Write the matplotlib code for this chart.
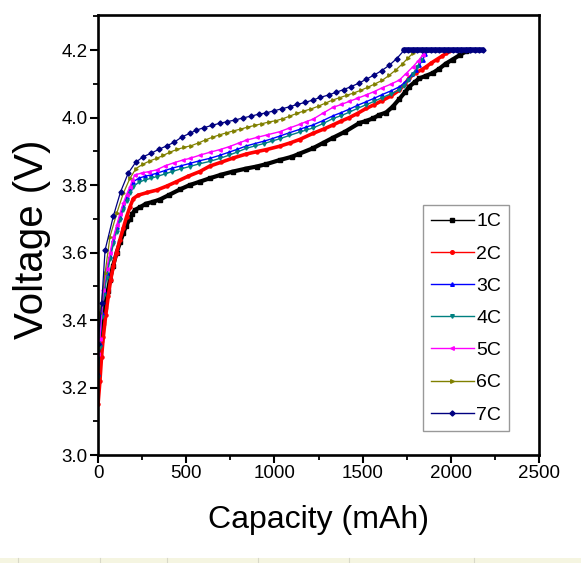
import matplotlib
matplotlib.use("Agg")
import matplotlib.pyplot as plt
from matplotlib.patches import Rectangle
from matplotlib.lines import Line2D
from matplotlib.ticker import MultipleLocator

# ---------------- data ----------------
labels = ["1C", "2C", "3C", "4C", "5C", "6C", "7C"]

cap1 = [0, 10, 19, 30, 40, 55, 68, 85, 106, 125, 143, 160, 181, 195, 209, 240, 273, 310, 350, 400,
        464, 520, 577, 633, 700, 765, 841, 900, 954, 1029, 1100, 1142, 1218, 1280, 1331, 1400, 1482,
        1520, 1560, 1595, 1633, 1670, 1708, 1740, 1765, 1795, 1821, 1860, 1897, 1935, 1972, 2010,
        2050, 2085, 2105]
v1 = [3.22, 3.29, 3.34, 3.39, 3.44, 3.485, 3.52, 3.56, 3.60, 3.63, 3.657, 3.68, 3.70, 3.715, 3.726,
      3.735, 3.745, 3.75, 3.757, 3.77, 3.787, 3.80, 3.81, 3.82, 3.831, 3.84, 3.849, 3.855, 3.862,
      3.874, 3.884, 3.893, 3.909, 3.926, 3.94, 3.958, 3.984, 3.99, 3.998, 4.008, 4.015, 4.032, 4.055,
      4.075, 4.092, 4.105, 4.116, 4.124, 4.132, 4.145, 4.16, 4.172, 4.185, 4.196, 4.2]

cap2 = [0, 11, 20, 30, 44, 58, 72, 87, 105, 124, 143, 162, 181, 200, 228, 280, 332, 390, 445, 510,
        577, 633, 700, 765, 841, 900, 954, 1029, 1090, 1143, 1218, 1280, 1331, 1380, 1425, 1470, 1520,
        1565, 1610, 1660, 1708, 1740, 1765, 1800, 1835, 1859, 1890, 1920, 1950, 1972, 1990, 2005]
v2 = [3.15, 3.22, 3.29, 3.35, 3.415, 3.47, 3.52, 3.56, 3.60, 3.637, 3.672, 3.706, 3.735, 3.76, 3.77,
      3.778, 3.785, 3.797, 3.81, 3.826, 3.84, 3.856, 3.868, 3.88, 3.892, 3.899, 3.905, 3.915, 3.925,
      3.935, 3.953, 3.966, 3.978, 3.99, 4.0, 4.012, 4.027, 4.038, 4.05, 4.064, 4.081, 4.1, 4.118,
      4.132, 4.142, 4.15, 4.162, 4.172, 4.182, 4.19, 4.196, 4.2]

cap3 = [0, 10, 21, 35, 49, 68, 87, 105, 124, 143, 162, 181, 200, 230, 265, 300, 332, 380, 420, 470,
        520, 575, 633, 690, 740, 790, 841, 890, 940, 985, 1029, 1085, 1143, 1180, 1218, 1275, 1331,
        1380, 1425, 1470, 1520, 1565, 1610, 1660, 1708, 1735, 1760, 1780, 1802, 1820, 1840, 1855, 1865]
v3 = [3.24, 3.33, 3.42, 3.485, 3.538, 3.59, 3.637, 3.675, 3.706, 3.738, 3.765, 3.79, 3.81, 3.82,
      3.826, 3.83, 3.835, 3.843, 3.85, 3.857, 3.864, 3.872, 3.879, 3.888, 3.897, 3.906, 3.916, 3.923,
      3.93, 3.937, 3.945, 3.955, 3.965, 3.972, 3.978, 3.991, 4.005, 4.015, 4.025, 4.036, 4.047, 4.057,
      4.068, 4.079, 4.091, 4.102, 4.115, 4.128, 4.141, 4.155, 4.17, 4.188, 4.2]

cap4 = [0, 10, 21, 35, 49, 68, 87, 105, 124, 143, 162, 181, 200, 230, 265, 300, 332, 380, 420, 470,
        520, 575, 633, 690, 740, 790, 841, 890, 940, 985, 1029, 1085, 1143, 1180, 1218, 1275, 1331,
        1380, 1425, 1470, 1520, 1565, 1610, 1660, 1708, 1735, 1760, 1785, 1810, 1830, 1850]
v4 = [3.23, 3.32, 3.41, 3.475, 3.525, 3.58, 3.625, 3.662, 3.695, 3.727, 3.753, 3.777, 3.795, 3.808,
      3.815, 3.82, 3.825, 3.833, 3.84, 3.848, 3.855, 3.863, 3.87, 3.879, 3.888, 3.898, 3.909, 3.916,
      3.923, 3.93, 3.937, 3.947, 3.957, 3.963, 3.969, 3.982, 3.997, 4.006, 4.016, 4.027, 4.038, 4.048,
      4.059, 4.07, 4.082, 4.095, 4.11, 4.128, 4.15, 4.172, 4.2]

cap5 = [0, 11, 30, 49, 68, 87, 106, 124, 143, 162, 181, 195, 209, 250, 290, 332, 380, 430, 480, 520,
        580, 633, 690, 745, 800, 841, 900, 960, 1029, 1085, 1143, 1180, 1218, 1275, 1331, 1380, 1425,
        1470, 1520, 1565, 1610, 1660, 1708, 1745, 1784, 1815, 1840, 1855]
v5 = [3.30, 3.345, 3.489, 3.55, 3.60, 3.645, 3.681, 3.715, 3.746, 3.772, 3.795, 3.815, 3.83, 3.836,
      3.84, 3.845, 3.857, 3.866, 3.874, 3.879, 3.889, 3.897, 3.905, 3.914, 3.925, 3.933, 3.941, 3.949,
      3.958, 3.969, 3.98, 3.988, 3.995, 4.013, 4.03, 4.039, 4.048, 4.057, 4.067, 4.077, 4.088, 4.099,
      4.111, 4.13, 4.15, 4.168, 4.185, 4.2]

cap6 = [0, 11, 40, 68, 106, 143, 181, 215, 255, 295, 332, 370, 410, 450, 490, 530, 570, 610, 650, 690,
        730, 770, 810, 850, 890, 930, 970, 1010, 1050, 1090, 1130, 1170, 1210, 1250, 1290, 1330, 1370,
        1410, 1450, 1490, 1530, 1570, 1610, 1650, 1690, 1727, 1760, 1784, 1800]
v6 = [3.32, 3.42, 3.538, 3.647, 3.716, 3.775, 3.82, 3.849, 3.862, 3.872, 3.879, 3.888, 3.898, 3.906,
      3.912, 3.917, 3.925, 3.934, 3.942, 3.949, 3.955, 3.961, 3.966, 3.972, 3.977, 3.982, 3.987, 3.991,
      3.997, 4.005, 4.013, 4.02, 4.026, 4.034, 4.043, 4.052, 4.059, 4.066, 4.073, 4.081, 4.09, 4.1,
      4.11, 4.125, 4.142, 4.16, 4.178, 4.19, 4.2]

cap7 = [0, 21, 40, 87, 128, 171, 213, 256, 300, 345, 389, 432, 477, 520, 558, 601, 646, 690, 733, 779,
        822, 865, 911, 954, 997, 1042, 1086, 1129, 1175, 1218, 1261, 1307, 1350, 1393, 1436, 1479,
        1522, 1565, 1608, 1651, 1694, 1736, 1760, 1785, 1810, 1835, 1860, 1885, 1910, 1935, 1960,
        1985, 2010, 2035, 2060, 2085, 2110, 2135, 2160, 2180]
v7 = [3.33, 3.45, 3.607, 3.708, 3.78, 3.835, 3.867, 3.884, 3.894, 3.906, 3.916, 3.927, 3.943, 3.953,
      3.963, 3.97, 3.977, 3.983, 3.988, 3.993, 3.999, 4.004, 4.01, 4.014, 4.02, 4.026, 4.032, 4.039,
      4.045, 4.052, 4.06, 4.067, 4.075, 4.083, 4.092, 4.102, 4.114, 4.126, 4.139, 4.155, 4.175, 4.2,
      4.2, 4.2, 4.2, 4.2, 4.2, 4.2, 4.2, 4.2, 4.2, 4.2, 4.2, 4.2, 4.2, 4.2, 4.2, 4.2, 4.2, 4.2]

caps = [cap1, cap2, cap3, cap4, cap5, cap6, cap7]
volts = [v1, v2, v3, v4, v5, v6, v7]

# ---------------- styles ----------------
colors = ["#000000", "#ff0000", "#0000ff", "#008080", "#ff00ff", "#808000", "#000080"]
markers = ["s", "o", "^", "v", "<", ">", "D"]
lws = [3.0, 2.6, 1.0, 1.0, 1.0, 0.9, 0.9]
mss = [2.2, 2.2, 2.4, 2.4, 2.4, 2.4, 2.6]

REG = ["Liberation Sans", "DejaVu Sans"]

fig = plt.figure(figsize=(5.81, 5.63), dpi=100)
ax = fig.add_axes([98 / 581, 1 - 455 / 563, 441 / 581, 440 / 563])

for c, v, col, mk, lw, ms in zip(caps, volts, colors, markers, lws, mss):
    ax.plot(c, v, color=col, marker=mk, lw=lw, ms=ms, mec=col, mfc=col)

# constant-voltage plateau of 7C drawn thick (dense markers in the original)
ax.plot(cap7[41:], v7[41:], color=colors[6], lw=4.0, solid_capstyle="round")

ax.set_xlim(0, 2500)
ax.set_ylim(3.0, 4.304)
ax.xaxis.set_major_locator(MultipleLocator(500))
ax.xaxis.set_minor_locator(MultipleLocator(250))
ax.yaxis.set_minor_locator(MultipleLocator(0.1))
ax.set_yticks([3.0, 3.2, 3.4, 3.6, 3.8, 4.0, 4.2])
ax.set_yticklabels(["3.0", "3.2", "3.4", "3.6", "3.8", "4.0", "4.2"])

for s in ax.spines.values():
    s.set_linewidth(1.9)
ax.tick_params(which="major", direction="out", length=6, width=1.5, pad=1.5,
               top=False, right=False)
ax.tick_params(which="minor", direction="out", length=3.8, width=1.3, top=False, right=False)
for t in ax.get_xticklabels() + ax.get_yticklabels():
    t.set_fontfamily(REG)
    t.set_fontsize(13.5)

ax.set_xlabel("Capacity (mAh)", fontsize=23, family=REG)
ax.set_ylabel("Voltage (V)", fontsize=29, family=REG)
ax.xaxis.set_label_coords(0.5, -0.114)
ax.yaxis.set_label_coords(-0.107, 0.49)

handles = [Line2D([], [], color=col, marker=mk, lw=1.0, ms=2.6, mec=col, mfc=col)
           for col, mk in zip(colors, markers)]
leg = ax.legend(handles, labels, loc="upper left", bbox_to_anchor=(0.737, 0.568),
                prop={"family": REG, "size": 14}, frameon=True, fancybox=False,
                edgecolor="#808080", labelspacing=0.75, handlelength=2.2,
                handletextpad=0.15, borderpad=0.4, borderaxespad=0.0)
leg.get_frame().set_linewidth(1.0)

# bottom strip of the screenshot
fig.patches.append(Rectangle((0, 0), 1, 5 / 563, transform=fig.transFigure,
                             facecolor="#f5f5e1", edgecolor="none", zorder=0))
for xp in [18, 100, 167, 258, 349, 474]:
    fig.lines.append(Line2D([xp / 581, xp / 581], [0, 5 / 563], transform=fig.transFigure,
                            color="#d8d8c8", lw=0.8))

fig.savefig("out.png", dpi=100)
